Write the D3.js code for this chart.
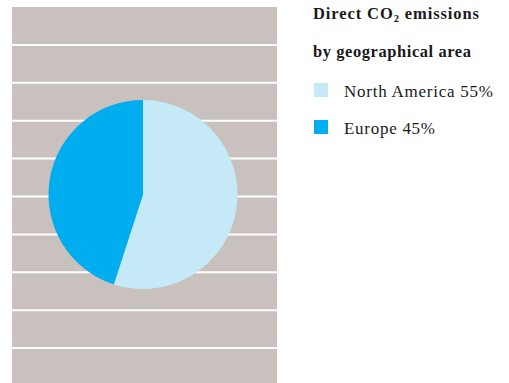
<!DOCTYPE html>
<html>
<head>
<meta charset="utf-8">
<script src="https://cdn.jsdelivr.net/npm/d3@7"></script>
<style>
  body { margin: 0; background: #fff; }
  text { font-family: "Liberation Serif", "DejaVu Serif", serif; fill: #1a1a1a; }
</style>
</head>
<body>
<div class="chart"></div>
<script>
// chart data
var regions = ["North America", "Europe"];
var shares = [55, 45];
var colors = ["#c6e9f8", "#00aeef"];

var svgWidth = 509;
var svgHeight = 383;

var svg = d3.select(".chart")
  .append("svg")
  .attr("width", svgWidth)
  .attr("height", svgHeight);

// striped backdrop panel
var panel = { x: 12, y: 7, width: 265, height: 376, band: 37.9 };

svg.append("rect")
  .attr("x", panel.x)
  .attr("y", panel.y)
  .attr("width", panel.width)
  .attr("height", panel.height)
  .attr("fill", "#c9c1be");

svg.selectAll("line.band")
  .data(d3.range(1, 10))
  .enter()
  .append("line")
  .attr("class", "band")
  .attr("x1", panel.x)
  .attr("x2", panel.x + panel.width)
  .attr("y1", d => panel.y + d * panel.band)
  .attr("y2", d => panel.y + d * panel.band)
  .attr("stroke", "#fff")
  .attr("stroke-width", 2);

// pie
var radius = 94.5;
var pieGroup = svg.append("g")
  .attr("transform", "translate(143, 194.5)");

var pie = d3.pie().sort(null);
var arc = d3.arc().innerRadius(0).outerRadius(radius);

pieGroup.selectAll("path")
  .data(pie(shares))
  .enter()
  .append("path")
  .attr("d", arc)
  .attr("fill", (d, i) => colors[i]);

// title
var title = svg.append("text")
  .attr("x", 313)
  .attr("y", 19)
  .attr("font-size", 16.5)
  .attr("font-weight", "bold")
  .attr("textLength", 166)
  .attr("lengthAdjust", "spacing");
title.append("tspan").text("Direct CO");
title.append("tspan").attr("font-size", 10.5).attr("dy", 3).text("2");
title.append("tspan").attr("dy", -3).text(" emissions");

svg.append("text")
  .attr("x", 313)
  .attr("y", 57)
  .attr("font-size", 16.5)
  .attr("font-weight", "bold")
  .attr("textLength", 158)
  .attr("lengthAdjust", "spacing")
  .text("by geographical area");

// legend
var legendWidths = [149, 91];

var legend = svg.selectAll("g.legend")
  .data(regions)
  .enter()
  .append("g")
  .attr("class", "legend")
  .attr("transform", (d, i) => `translate(314, ${83 + i * 37})`);

legend.append("rect")
  .attr("width", 14)
  .attr("height", 14)
  .attr("fill", (d, i) => colors[i]);

legend.append("text")
  .attr("x", 30)
  .attr("y", 13.5)
  .attr("font-size", 17)
  .attr("textLength", (d, i) => legendWidths[i])
  .attr("lengthAdjust", "spacing")
  .text((d, i) => `${d} ${shares[i]}%`);
</script>
</body>
</html>
